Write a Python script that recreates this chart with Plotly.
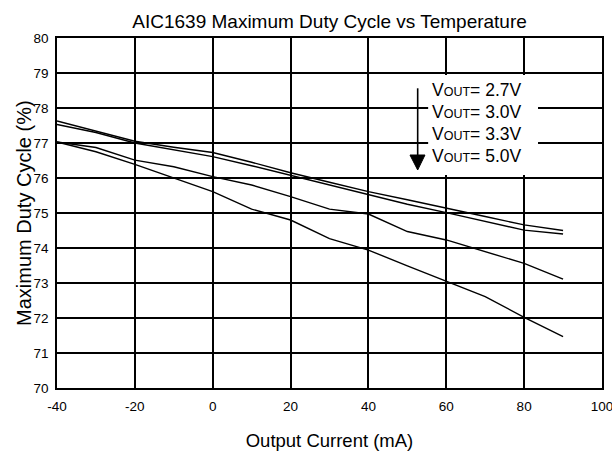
import plotly.graph_objects as go

# Data
current_ma = [-40, -30, -20, -10, 0, 10, 20, 30, 40, 50, 60, 70, 80, 90]
duty_27 = [77.63, 77.35, 77.05, 76.88, 76.73, 76.45, 76.15, 75.88, 75.61, 75.38, 75.13, 74.90, 74.66, 74.50]
duty_30 = [77.53, 77.30, 77.00, 76.80, 76.61, 76.35, 76.07, 75.80, 75.51, 75.25, 75.01, 74.75, 74.51, 74.40]
duty_33 = [77.03, 76.87, 76.51, 76.32, 76.04, 75.80, 75.47, 75.11, 74.97, 74.47, 74.23, 73.90, 73.56, 73.11]
duty_50 = [77.03, 76.75, 76.39, 75.99, 75.61, 75.11, 74.80, 74.27, 73.94, 73.49, 73.04, 72.61, 72.02, 71.47]
series = [duty_27, duty_30, duty_33, duty_50]
legend_labels = ["2.7V", "3.0V", "3.3V", "5.0V"]

x_ticks = [-40, -20, 0, 20, 40, 60, 80, 100]
x_tick_text = ["-40", "-20", "0", "20", "40", "60", "80", "100"]
y_ticks = [70, 71, 72, 73, 74, 75, 76, 77, 78, 79, 80]

FONT = "Liberation Sans, Arial, Helvetica, sans-serif"

fig = go.Figure()
for ys, lab in zip(series, legend_labels):
    fig.add_trace(go.Scatter(x=current_ma, y=ys, mode="lines", name=lab,
                             line=dict(color="black", width=1.4),
                             showlegend=False, hoverinfo="skip"))

axis_common = dict(showgrid=True, gridcolor="black", gridwidth=1.7,
                   showline=True, linecolor="black", linewidth=1.7, mirror=True,
                   zeroline=False, ticks="", automargin=False, ticklabeloverflow="allow",
                   tickfont=dict(family=FONT, size=13.5, color="black"))

fig.update_xaxes(range=[-40, 100], tickvals=x_ticks, ticktext=x_tick_text, ticklabelstandoff=5,
                 title=dict(text="Output Current (mA)", font=dict(family=FONT, size=18.5, color="black"), standoff=21),
                 **axis_common)
fig.update_yaxes(range=[70, 80], tickvals=y_ticks, ticklabelstandoff=4, **axis_common)

# y-axis title placed as rotated annotation
fig.add_annotation(xref="paper", yref="paper", x=-0.0606, y=0.5, xanchor="center", yanchor="middle",
                   textangle=-90, showarrow=False, text="Maximum Duty Cycle (%)",
                   font=dict(family=FONT, size=20, color="black"))

# legend box (white) over gridlines
fig.add_shape(type="rect", xref="paper", yref="paper", x0=0.681, x1=0.8826, y0=0.6086, y1=0.894,
              fillcolor="white", line=dict(width=0), layer="above")
# arrow
fig.add_shape(type="line", xref="paper", yref="paper", x0=0.6618, x1=0.6618, y0=0.8563, y1=0.665,
              line=dict(color="black", width=1.6), layer="above")
fig.add_shape(type="path", xref="paper", yref="paper",
              path="M 0.6477,0.6657 L 0.6752,0.6657 L 0.6618,0.6229 Z",
              fillcolor="black", line=dict(color="black", width=1), layer="above")

ys_text = [0.851, 0.788, 0.726, 0.662]
for lab, yp in zip(legend_labels, ys_text):
    fig.add_annotation(xref="paper", yref="paper", x=0.6844, y=yp, xanchor="left", yanchor="middle",
                       showarrow=False,
                       text="V<span style='font-size:12.5px'>OUT</span>= " + lab,
                       font=dict(family=FONT, size=17.5, color="black"))

fig.update_layout(
    width=612, height=452,
    margin=dict(l=57, r=10, t=38, b=64),
    paper_bgcolor="white", plot_bgcolor="white",
    title=dict(text="AIC1639 Maximum Duty Cycle vs Temperature", x=0.5385, xanchor="center",
               y=1 - 21 / 452, yanchor="middle", font=dict(family=FONT, size=19, color="black")),
)

fig.write_html("out.html", config={"displayModeBar": False},
               post_script="document.body.style.margin='0px';")
